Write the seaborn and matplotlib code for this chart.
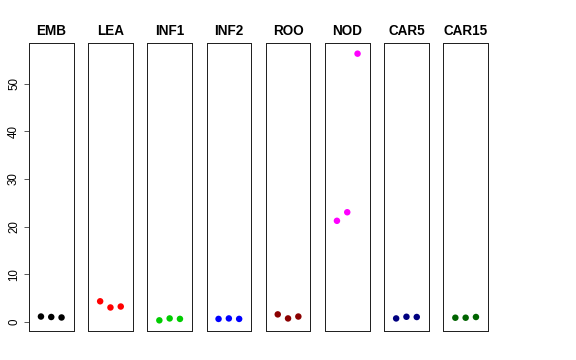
import matplotlib
matplotlib.use("Agg")
import matplotlib.pyplot as plt
import seaborn as sns
import pandas as pd

tissues = ["EMB", "LEA", "INF1", "INF2", "ROO", "NOD", "CAR5", "CAR15"]
colors = ["#000000", "#FF0000", "#00CD00", "#0000FF", "#8B0000", "#FF00FF", "#000080", "#006400"]
replicate = [1, 2, 3]
values = {
    "EMB": [1.1, 1.0, 0.9],
    "LEA": [4.3, 3.0, 3.2],
    "INF1": [0.3, 0.7, 0.6],
    "INF2": [0.6, 0.7, 0.6],
    "ROO": [1.55, 0.7, 1.1],
    "NOD": [21.2, 23.0, 56.3],
    "CAR5": [0.7, 1.05, 1.0],
    "CAR15": [0.85, 0.85, 1.0],
}
yticks = [0, 10, 20, 30, 40, 50]

sns.set_style("white")
plt.rcParams["font.family"] = ["Liberation Sans", "DejaVu Sans"]
plt.rcParams["text.color"] = "black"
plt.rcParams["ytick.color"] = "black"

W, H = 576, 360
fig = plt.figure(figsize=(W / 72, H / 72), dpi=72)

allv = [v for t in tissues for v in values[t]]
lo, hi = min(allv), max(allv)
pad = (hi - lo) * 0.04
ylim = (lo - pad, hi + pad)

left0, step, pw = 29, 59.2, 44.5
top, bottom = 43, 331
for i, (t, c) in enumerate(zip(tissues, colors)):
    x0 = left0 + i * step
    ax = fig.add_axes([x0 / W, (H - bottom) / H, pw / W, (bottom - top) / H])
    df = pd.DataFrame({"rep": replicate, "val": values[t]})
    sns.scatterplot(data=df, x="rep", y="val", ax=ax, color=c, s=42, edgecolor="none", linewidth=0)
    ax.set_xlim(-0.16, 4.16)
    ax.set_ylim(*ylim)
    ax.set_xticks([])
    ax.set_xlabel("")
    ax.set_ylabel("")
    for sp in ax.spines.values():
        sp.set_color("#222222")
        sp.set_linewidth(1.0)
    ax.set_title(t, fontsize=13.5, fontweight="bold", pad=8, color="black")
    if i == 0:
        ax.set_yticks(yticks)
        ax.set_yticklabels([str(v) for v in yticks])
        ax.tick_params(axis="y", left=True, length=5, width=0.8, pad=4,
                       color="#333333", labelsize=11.5, labelrotation=90,
                       labelcolor="black")
        for lab in ax.get_yticklabels():
            lab.set_va("center")
    else:
        ax.set_yticks([])

fig.savefig("out.png", dpi=72)
